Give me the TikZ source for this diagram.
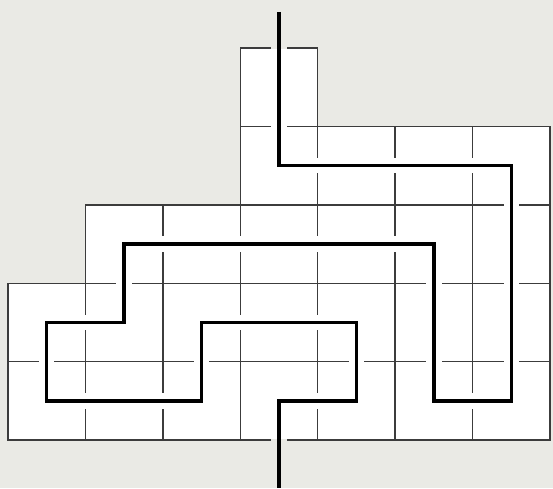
\documentclass[tikz,border=0pt]{standalone}
\definecolor{paper}{HTML}{EAEAE5}
\definecolor{gridline}{HTML}{3C3C3C}
\tikzset{
  cellgrid/.style={draw=gridline, line width=0.55pt},
  routeline/.style={draw=black, line width=1.3pt, line join=miter},
  routehalo/.style={draw=white, line width=0.2cm},
  stubhalo/.style={draw=paper, line width=0.2cm},
}
\begin{document}
\begin{tikzpicture}[x=1cm, y=1.013cm]
  \def\xL{-0.103} \def\xR{7.039}
  \def\yB{-0.612} \def\yT{5.612}
  % paper background
  \fill[paper] (\xL, \yB) rectangle (\xR, \yT);
  \useasboundingbox (\xL, \yB) rectangle (\xR, \yT);
  % the board
  \def\board{(0,0) -- (7,0) -- (7,4) -- (4,4) -- (4,5) -- (3,5) -- (3,3) -- (1,3) -- (1,2) -- (0,2) -- cycle}
  \fill[white] \board;
  \begin{scope}
    \clip \board;
    \foreach \x in {1,...,6} {
      \draw[cellgrid] (\x, 0) -- (\x, 5);
    }
    \foreach \y in {1,...,4} {
      \draw[cellgrid] (0, \y) -- (7, \y);
    }
  \end{scope}
  \draw[cellgrid] \board;
  % route through all cells
  \coordinate (in)  at (3.5, 5.46);
  \coordinate (top) at (3.5, 5.0);
  \coordinate (bot) at (3.5, 0.0);
  \coordinate (out) at (3.5, \yB);
  \def\route{(top) -- (3.5,3.5) -- (6.5,3.5) -- (6.5,0.5) -- (5.5,0.5) -- (5.5,2.5)
    -- (1.5,2.5) -- (1.5,1.5) -- (0.5,1.5) -- (0.5,0.5) -- (2.5,0.5) -- (2.5,1.5)
    -- (4.5,1.5) -- (4.5,0.5) -- (3.5,0.5) -- (bot)}
  \draw[routehalo] \route;
  \draw[stubhalo] (in) -- ([yshift=-0.3pt]top);
  \draw[stubhalo] ([yshift=0.3pt]bot) -- (out);
  \draw[routeline] (in) -- \route -- (out);
\end{tikzpicture}
\end{document}
